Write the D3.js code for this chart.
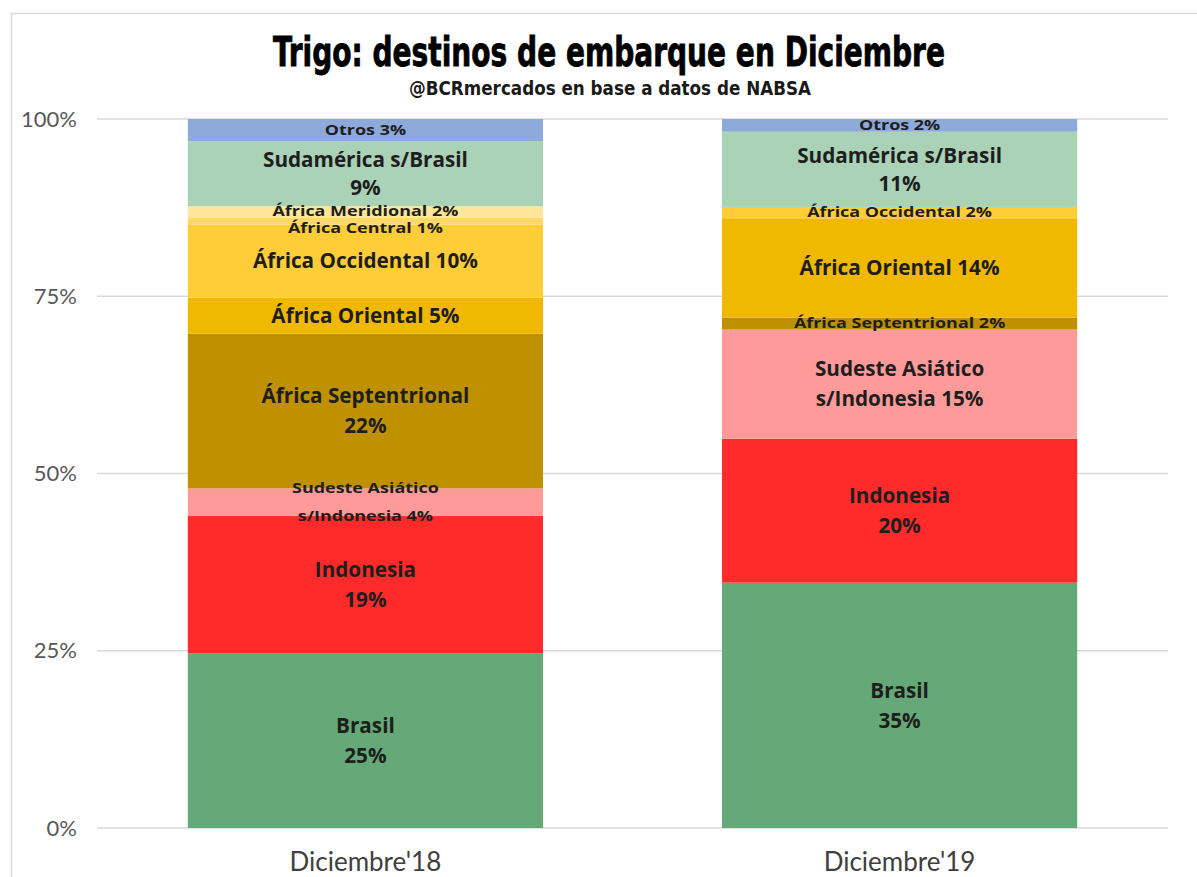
<!DOCTYPE html>
<html><head><meta charset="utf-8">
<script src="https://cdn.jsdelivr.net/npm/d3@7"></script>
<style>
html,body{margin:0;padding:0;background:#fff;}
svg{display:block;}
</style></head>
<body>
<svg id="chart" width="1197" height="877"></svg>
<script>
// ---- data ----
const categories = ["Diciembre'18", "Diciembre'19"];
const destinos18 = ["Brasil","Indonesia","Sudeste Asiático s/Indonesia","África Septentrional","África Oriental","África Occidental","África Central","África Meridional","Sudamérica s/Brasil","Otros"];
const valores18  = [24.6, 19.4, 3.9, 21.8, 5.1, 10.3, 1.0, 1.6, 9.2, 3.1];
const destinos19 = ["Brasil","Indonesia","Sudeste Asiático s/Indonesia","África Septentrional","África Oriental","África Occidental","Sudamérica s/Brasil","Otros"];
const valores19  = [34.6, 20.3, 15.4, 1.7, 14.0, 1.6, 10.6, 1.8];
const yTicks = [0, 25, 50, 75, 100];
const yTickLabels = ["0%","25%","50%","75%","100%"];
const title = "Trigo: destinos de embarque en Diciembre";
const subtitle = "@BCRmercados en base a datos de NABSA";

// ---- styles ----
const colors = {
  "Brasil":"#64a977",
  "Indonesia":"#ff2b2b",
  "Sudeste Asiático s/Indonesia":"#ff9a9a",
  "África Septentrional":"#bf9000",
  "África Oriental":"#f1b800",
  "África Occidental":"#ffcd37",
  "África Central":"#ffd966",
  "África Meridional":"#ffe699",
  "Sudamérica s/Brasil":"#aad2b7",
  "Otros":"#8eaadb"
};
const seriesByBar = [
  {names: destinos18, values: valores18},
  {names: destinos19, values: valores19}
];
// label layout (per bar): which names are split in two lines
const twoLine = [
  new Set(["Brasil","Indonesia","Sudeste Asiático s/Indonesia","África Septentrional","Sudamérica s/Brasil"]),
  new Set(["Brasil","Indonesia","Sudeste Asiático s/Indonesia","Sudamérica s/Brasil"])
];
const nudge = {"África Central": 7, "África Meridional": -1};

const svg = d3.select("#chart");
const plot = {left: 97, right: 1168, top: 119, bottom: 828};
const labelFont = "'Open Sans', Lato, sans-serif";

// frame
svg.append("rect").attr("x",11.5).attr("y",13.5).attr("width",1400).attr("height",1000)
  .attr("fill","none").attr("stroke","#d9d9d9").attr("stroke-width",1.5);

const x = d3.scaleBand().domain(categories).range([plot.left, plot.right])
  .paddingInner(0.335).paddingOuter(0.17);
const y = d3.scaleLinear().domain([0,100]).range([plot.bottom, plot.top]);

// gridlines
svg.append("g").selectAll("line").data(yTicks).join("line")
  .attr("x1", plot.left).attr("x2", plot.right)
  .attr("y1", d=>y(d)).attr("y2", d=>y(d))
  .attr("stroke","#d9d9d9").attr("stroke-width",1.5);

// y tick labels
svg.append("g").selectAll("text").data(yTicks).join("text")
  .attr("x", 77).attr("y", d=>y(d)).attr("dy","0.35em")
  .attr("text-anchor","end")
  .attr("font-family","Lato, 'Open Sans', sans-serif")
  .attr("font-size",22).attr("fill","#595959")
  .text((d,i)=>yTickLabels[i]);

// x labels
svg.append("g").selectAll("text").data(categories).join("text")
  .attr("x", d=>x(d)+x.bandwidth()/2).attr("y", 871)
  .attr("text-anchor","middle")
  .attr("font-family","Lato, 'Open Sans', sans-serif")
  .attr("font-size",26).attr("fill","#404040")
  .text(d=>d);

// bars
categories.forEach((cat, bi) => {
  const s = seriesByBar[bi];
  let cum = 0;
  const segs = s.names.map((n,i)=>{ const o={name:n, v:s.values[i], y0:cum, y1:cum+s.values[i]}; cum+=s.values[i]; return o; });
  const g = svg.append("g");
  g.selectAll("rect").data(segs).join("rect")
    .attr("x", x(cat)).attr("width", x.bandwidth())
    .attr("y", d=>y(d.y1)).attr("height", d=>y(d.y0)-y(d.y1))
    .attr("fill", d=>colors[d.name]);
  const lg = svg.append("g");
  segs.forEach(d=>{
    const pct = Math.round(d.v) + "%";
    let lines;
    if (twoLine[bi].has(d.name)) {
      if (d.name === "Sudeste Asiático s/Indonesia") lines = ["Sudeste Asiático", "s/Indonesia " + pct];
      else lines = [d.name, pct];
    } else lines = [d.name + " " + pct];
    const small = d.v < 4.5;
    const fs = small ? 13.5 : 20.7;
    const sx = small ? 1.33 : 1;
    const lh = small ? 28 : (d.name === "Sudamérica s/Brasil" ? 28 : 30);
    const cx = x(cat) + x.bandwidth()/2;
    const cy = (y(d.y0)+y(d.y1))/2 + (bi===0 && nudge[d.name] ? nudge[d.name] : 0);
    const t = lg.append("g").attr("transform", `translate(${cx},${cy}) scale(${sx},1)`)
      .append("text")
      .attr("text-anchor","middle")
      .attr("font-family", labelFont)
      .attr("font-weight","bold").attr("font-size",fs).attr("fill","#1e1e1e");
    lines.forEach((ln,k)=>{
      t.append("tspan").attr("x",0)
       .attr("y", (k - (lines.length-1)/2)*lh)
       .attr("dy","0.35em").text(ln);
    });
  });
});

// titles
svg.append("text").attr("x",609).attr("y",66).attr("text-anchor","middle")
  .attr("font-family","'Liberation Sans Narrow','DejaVu Sans Condensed',sans-serif")
  .attr("font-weight","bold").attr("font-size",40).attr("fill","#000")
  .attr("stroke","#000").attr("stroke-width",0.8)
  .attr("textLength",672).attr("lengthAdjust","spacingAndGlyphs")
  .text(title);
svg.append("text").attr("x",610).attr("y",95).attr("text-anchor","middle")
  .attr("font-family","'Liberation Sans Narrow','DejaVu Sans Condensed',sans-serif")
  .attr("font-weight","bold").attr("font-size",19).attr("fill","#1a1a1a")
  .attr("textLength",402).attr("lengthAdjust","spacingAndGlyphs")
  .text(subtitle);
</script>
</body></html>
